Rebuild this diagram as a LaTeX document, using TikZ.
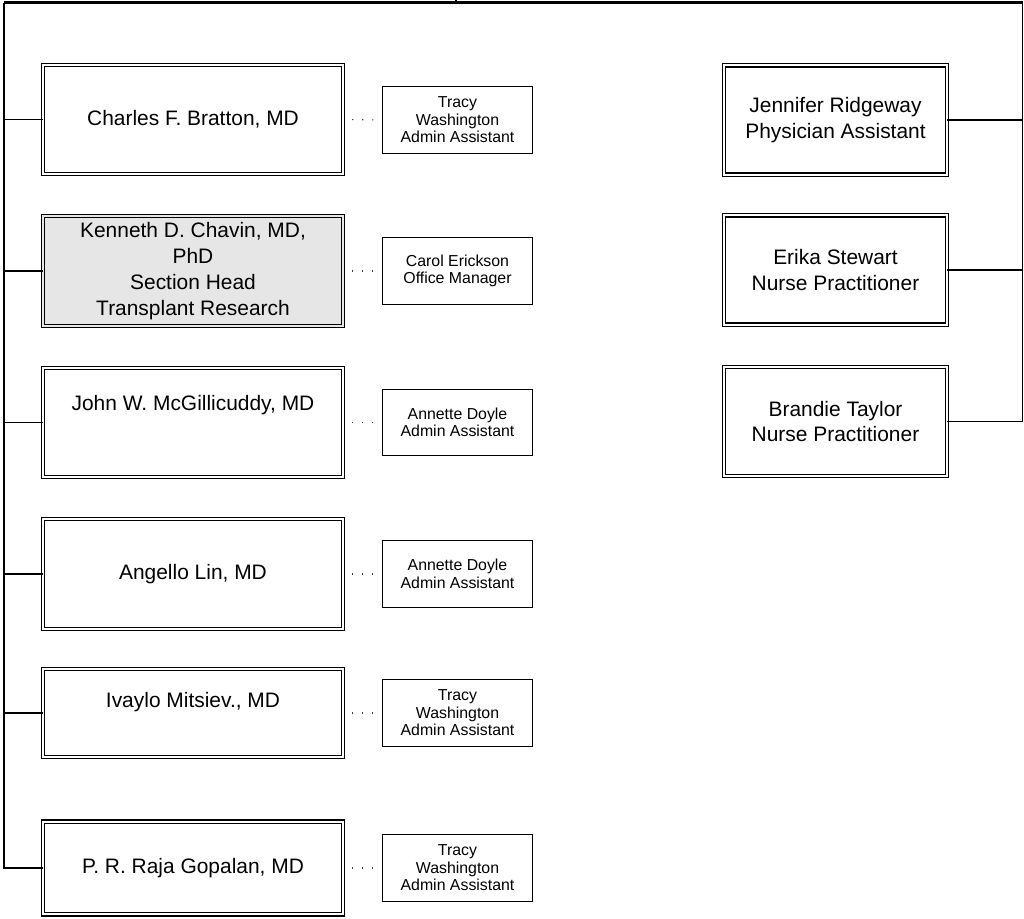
\documentclass[tikz,border=0pt]{standalone}
\usepackage{fontspec}
\setmainfont{Liberation Sans}
\usepackage{tikz}
\usetikzlibrary{positioning,calc}
\definecolor{boxgray}{RGB}{230,230,230}
\definecolor{dotgray}{RGB}{60,60,60}

\begin{document}
\begin{tikzpicture}[
        x=0.75pt, y=-0.75pt,
        physician/.style={draw=black, double=white, double distance=1.6pt, line width=0.85pt, rectangle, minimum width=224.8pt, minimum height=81.5pt, align=center, inner sep=2pt, font=\fontsize{15.7}{19.3}\selectfont},
        staff/.style={draw=black, double=white, double distance=1.6pt, line width=0.85pt, rectangle, minimum width=167pt, minimum height=82pt, align=center, inner sep=2pt, font=\fontsize{15.7}{19.3}\selectfont},
        assistant/.style={draw=black, line width=0.85pt, rectangle, minimum width=112.5pt, minimum height=50pt, align=center, inner sep=1pt, font=\fontsize{11.9}{13.1}\selectfont},
        conn/.style={line width=1.2pt, color=black},
        dots/.style={line width=0.9pt, color=dotgray, dash pattern=on 0.9pt off 6.6pt, dash phase=0.9pt}
    ]
        \useasboundingbox (0,0) rectangle (1024,918);

        % Nodes
        \node[physician] (bratton) at (193, 119.5) {Charles F. Bratton, MD};
        \node[physician, fill=boxgray, double=boxgray, minimum height=82.3pt] (chavin) at (193, 271) {Kenneth D. Chavin, MD,\\PhD\\Section Head\\Transplant Research};
        \node[physician] (mcgillicuddy) at (193, 422.5) {John W. McGillicuddy, MD\\[10pt]~};
        \node[physician, minimum height=82.3pt] (lin) at (193, 574) {Angello Lin, MD};
        \node[physician, minimum height=65.8pt] (mitsiev) at (193, 713) {Ivaylo Mitsiev., MD\\~};
        \node[physician, minimum height=69.5pt] (gopalan) at (193, 868) {P. R. Raja Gopalan, MD};

        \node[assistant] (washingtonA) at (457.5, 120) {Tracy\\Washington\\Admin Assistant};
        \node[assistant] (erickson) at (457.5, 271) {Carol Erickson\\Office Manager};
        \node[assistant] (doyleA) at (457.5, 422.5) {Annette Doyle\\Admin Assistant};
        \node[assistant] (doyleB) at (457.5, 574) {Annette Doyle\\Admin Assistant};
        \node[assistant] (washingtonB) at (457.5, 713) {Tracy\\Washington\\Admin Assistant};
        \node[assistant] (washingtonC) at (457.5, 868) {Tracy\\Washington\\Admin Assistant};

        \node[staff] (ridgeway) at (835.5, 120) {Jennifer Ridgeway\\Physician Assistant};
        \node[staff] (stewart) at (835.5, 270) {Erika Stewart\\Nurse Practitioner};
        \node[staff] (taylor) at (835.5, 421.5) {Brandie Taylor\\Nurse Practitioner};

        \coordinate (trunkL) at (4, 2.5);
        \coordinate (trunkR) at (1022.5, 2.5);
        \coordinate (parent) at (456, 0);

        % Connectors
        \draw[conn, line width=2pt] (parent) -- (parent |- trunkL);
        \draw[conn, line width=1.6pt] (trunkL) -- (trunkR);
        \draw[conn] (trunkL) |- (gopalan.west);
        \draw[conn] (trunkR) |- (taylor.east);
        \foreach \doc in {bratton, chavin, mcgillicuddy, lin, mitsiev}
            \draw[conn] (\doc.west) -- (\doc.west -| trunkL);
        \foreach \nurse in {ridgeway, stewart}
            \draw[conn] (\nurse.east) -- (\nurse.east -| trunkR);

        \draw[dots] (bratton.east) -- (washingtonA.west);
        \draw[dots] (chavin.east) -- (erickson.west);
        \draw[dots] (mcgillicuddy.east) -- (doyleA.west);
        \draw[dots] (lin.east) -- (doyleB.west);
        \draw[dots] (mitsiev.east) -- (washingtonB.west);
        \draw[dots] (gopalan.east) -- (washingtonC.west);
\end{tikzpicture}
\end{document}
